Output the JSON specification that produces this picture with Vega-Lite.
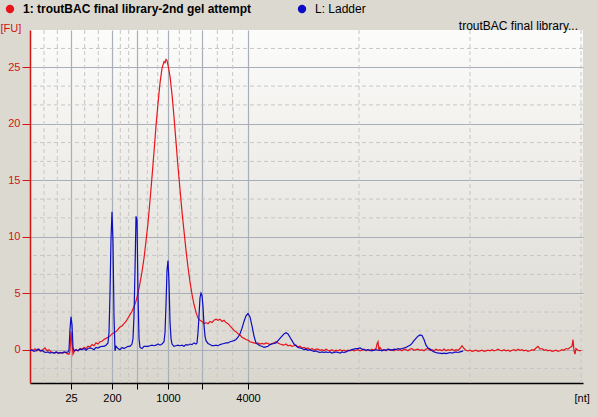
{
  "$schema": "https://vega.github.io/schema/vega-lite/v6.json",
  "width": 553,
  "height": 353,
  "autosize": {"type": "none"},
  "padding": {"left": 30, "top": 30, "right": 14, "bottom": 34},
  "background": "#dcd9d1",
  "config": {
    "font": "Liberation Sans",
    "view": {"stroke": null, "fill": {"gradient": "linear", "x1": 0, "y1": 0, "x2": 0, "y2": 1, "stops": [{"offset": 0, "color": "#fcfcfb"}, {"offset": 1, "color": "#d9d6ce"}]}}
  },
  "title": {"text": "troutBAC final library...", "anchor": "end", "frame": "group", "fontSize": 12, "fontWeight": "normal", "font": "Liberation Sans", "color": "#000000", "offset": -39, "baseline": "alphabetic", "dx": -5},
  "datasets": {
    "vgrid": [{"t":44},{"t":57.3},{"t":84.7},{"t":98.3},{"t":120.3},{"t":128.7},{"t":147.3},{"t":157.7},{"t":179.3},{"t":190.7},{"t":217.3},{"t":232.7},{"t":359},{"t":470},{"t":581}],
    "hgrid": [{"v":-1.667},{"v":1.667},{"v":3.333},{"v":6.667},{"v":8.333},{"v":11.667},{"v":13.333},{"v":16.667},{"v":18.333},{"v":21.667},{"v":23.333},{"v":26.667}],
    "curves": [
      {"s":"1","t":30,"v":0.0},{"s":"1","t":33,"v":-0.1},{"s":"1","t":35,"v":0.1},{"s":"1","t":37,"v":-0.1},{"s":"1","t":39,"v":0.05},{"s":"1","t":41,"v":-0.15},{"s":"1","t":43,"v":0.0},{"s":"1","t":45,"v":0.15},{"s":"1","t":47,"v":-0.1},{"s":"1","t":49,"v":0.0},{"s":"1","t":51,"v":-0.2},{"s":"1","t":53,"v":-0.25},{"s":"1","t":55,"v":-0.3},{"s":"1","t":57,"v":-0.2},{"s":"1","t":59,"v":-0.35},{"s":"1","t":61,"v":-0.25},{"s":"1","t":63,"v":-0.3},{"s":"1","t":65,"v":-0.2},{"s":"1","t":67,"v":-0.35},{"s":"1","t":69,"v":-0.4},{"s":"1","t":70,"v":-0.1},{"s":"1","t":71,"v":1.6},{"s":"1","t":72,"v":0.5},{"s":"1","t":73,"v":-0.4},{"s":"1","t":74,"v":-0.2},{"s":"1","t":76,"v":0.0},{"s":"1","t":78,"v":-0.1},{"s":"1","t":80,"v":0.1},{"s":"1","t":82,"v":0.05},{"s":"1","t":84,"v":0.2},{"s":"1","t":86,"v":0.1},{"s":"1","t":88,"v":0.3},{"s":"1","t":90,"v":0.25},{"s":"1","t":92,"v":0.45},{"s":"1","t":94,"v":0.35},{"s":"1","t":96,"v":0.6},{"s":"1","t":98,"v":0.5},{"s":"1","t":100,"v":0.7},{"s":"1","t":102,"v":0.75},{"s":"1","t":104,"v":0.9},{"s":"1","t":106,"v":1.0},{"s":"1","t":108,"v":1.1},{"s":"1","t":110,"v":1.2},{"s":"1","t":112,"v":1.4},{"s":"1","t":114,"v":1.5},{"s":"1","t":116,"v":1.6},{"s":"1","t":118,"v":1.8},{"s":"1","t":120,"v":2.0},{"s":"1","t":122,"v":2.1},{"s":"1","t":124,"v":2.3},{"s":"1","t":126,"v":2.5},{"s":"1","t":128,"v":2.8},{"s":"1","t":130,"v":3.1},{"s":"1","t":132,"v":3.4},{"s":"1","t":134,"v":3.8},{"s":"1","t":136,"v":4.3},{"s":"1","t":138,"v":5.0},{"s":"1","t":140,"v":5.9},{"s":"1","t":142,"v":6.9},{"s":"1","t":144,"v":8.1},{"s":"1","t":146,"v":9.6},{"s":"1","t":148,"v":11.2},{"s":"1","t":150,"v":13.2},{"s":"1","t":152,"v":15.3},{"s":"1","t":154,"v":17.5},{"s":"1","t":156,"v":19.8},{"s":"1","t":158,"v":21.8},{"s":"1","t":160,"v":23.6},{"s":"1","t":162,"v":24.9},{"s":"1","t":164,"v":25.5},{"s":"1","t":165,"v":25.4},{"s":"1","t":166,"v":25.7},{"s":"1","t":167,"v":25.6},{"s":"1","t":168,"v":25.2},{"s":"1","t":170,"v":24.2},{"s":"1","t":172,"v":22.6},{"s":"1","t":174,"v":20.6},{"s":"1","t":176,"v":18.4},{"s":"1","t":178,"v":16.2},{"s":"1","t":180,"v":14.2},{"s":"1","t":182,"v":12.2},{"s":"1","t":184,"v":10.5},{"s":"1","t":186,"v":8.8},{"s":"1","t":188,"v":7.3},{"s":"1","t":190,"v":6.0},{"s":"1","t":192,"v":4.9},{"s":"1","t":194,"v":4.0},{"s":"1","t":196,"v":3.3},{"s":"1","t":198,"v":2.8},{"s":"1","t":200,"v":2.6},{"s":"1","t":202,"v":2.5},{"s":"1","t":204,"v":2.3},{"s":"1","t":206,"v":2.4},{"s":"1","t":208,"v":2.3},{"s":"1","t":210,"v":2.5},{"s":"1","t":212,"v":2.4},{"s":"1","t":214,"v":2.6},{"s":"1","t":216,"v":2.7},{"s":"1","t":218,"v":2.6},{"s":"1","t":220,"v":2.7},{"s":"1","t":222,"v":2.5},{"s":"1","t":224,"v":2.6},{"s":"1","t":226,"v":2.4},{"s":"1","t":228,"v":2.3},{"s":"1","t":230,"v":2.1},{"s":"1","t":232,"v":1.9},{"s":"1","t":234,"v":1.7},{"s":"1","t":236,"v":1.6},{"s":"1","t":238,"v":1.4},{"s":"1","t":240,"v":1.3},{"s":"1","t":242,"v":1.1},{"s":"1","t":244,"v":1.0},{"s":"1","t":246,"v":0.9},{"s":"1","t":248,"v":0.85},{"s":"1","t":250,"v":0.7},{"s":"1","t":252,"v":0.65},{"s":"1","t":254,"v":0.6},{"s":"1","t":256,"v":0.55},{"s":"1","t":258,"v":0.6},{"s":"1","t":260,"v":0.5},{"s":"1","t":262,"v":0.55},{"s":"1","t":264,"v":0.5},{"s":"1","t":266,"v":0.6},{"s":"1","t":268,"v":0.55},{"s":"1","t":270,"v":0.45},{"s":"1","t":272,"v":0.55},{"s":"1","t":274,"v":0.6},{"s":"1","t":276,"v":0.7},{"s":"1","t":278,"v":0.6},{"s":"1","t":280,"v":0.5},{"s":"1","t":282,"v":0.45},{"s":"1","t":284,"v":0.4},{"s":"1","t":286,"v":0.5},{"s":"1","t":288,"v":0.35},{"s":"1","t":290,"v":0.4},{"s":"1","t":292,"v":0.3},{"s":"1","t":294,"v":0.35},{"s":"1","t":296,"v":0.4},{"s":"1","t":298,"v":0.25},{"s":"1","t":300,"v":0.3},{"s":"1","t":302,"v":0.15},{"s":"1","t":304,"v":0.2},{"s":"1","t":306,"v":0.1},{"s":"1","t":308,"v":0.15},{"s":"1","t":310,"v":0.0},{"s":"1","t":312,"v":0.1},{"s":"1","t":314,"v":-0.05},{"s":"1","t":316,"v":0.05},{"s":"1","t":318,"v":0.05},{"s":"1","t":320,"v":-0.05},{"s":"1","t":322,"v":0.0},{"s":"1","t":324,"v":-0.1},{"s":"1","t":326,"v":0.05},{"s":"1","t":328,"v":-0.05},{"s":"1","t":330,"v":-0.1},{"s":"1","t":332,"v":0.0},{"s":"1","t":334,"v":-0.15},{"s":"1","t":336,"v":-0.05},{"s":"1","t":338,"v":-0.1},{"s":"1","t":340,"v":0.0},{"s":"1","t":342,"v":-0.1},{"s":"1","t":344,"v":-0.05},{"s":"1","t":346,"v":-0.15},{"s":"1","t":348,"v":-0.05},{"s":"1","t":350,"v":-0.1},{"s":"1","t":352,"v":0.0},{"s":"1","t":354,"v":-0.1},{"s":"1","t":356,"v":-0.05},{"s":"1","t":358,"v":0.0},{"s":"1","t":360,"v":-0.1},{"s":"1","t":362,"v":-0.05},{"s":"1","t":364,"v":0.05},{"s":"1","t":366,"v":-0.1},{"s":"1","t":368,"v":0.0},{"s":"1","t":370,"v":-0.1},{"s":"1","t":372,"v":0.05},{"s":"1","t":374,"v":-0.05},{"s":"1","t":376,"v":0.1},{"s":"1","t":377,"v":0.5},{"s":"1","t":378,"v":0.7},{"s":"1","t":379,"v":-0.1},{"s":"1","t":380,"v":0.2},{"s":"1","t":382,"v":-0.05},{"s":"1","t":384,"v":0.0},{"s":"1","t":386,"v":-0.1},{"s":"1","t":388,"v":0.05},{"s":"1","t":390,"v":-0.05},{"s":"1","t":392,"v":0.0},{"s":"1","t":394,"v":-0.1},{"s":"1","t":396,"v":0.05},{"s":"1","t":398,"v":-0.05},{"s":"1","t":400,"v":0.0},{"s":"1","t":402,"v":-0.1},{"s":"1","t":404,"v":0.05},{"s":"1","t":406,"v":0.0},{"s":"1","t":408,"v":-0.1},{"s":"1","t":410,"v":0.05},{"s":"1","t":412,"v":0.1},{"s":"1","t":414,"v":-0.05},{"s":"1","t":416,"v":0.0},{"s":"1","t":418,"v":0.05},{"s":"1","t":420,"v":-0.05},{"s":"1","t":422,"v":0.0},{"s":"1","t":424,"v":-0.1},{"s":"1","t":426,"v":0.05},{"s":"1","t":428,"v":0.1},{"s":"1","t":430,"v":-0.05},{"s":"1","t":432,"v":0.0},{"s":"1","t":434,"v":-0.1},{"s":"1","t":436,"v":0.05},{"s":"1","t":438,"v":-0.05},{"s":"1","t":440,"v":0.0},{"s":"1","t":442,"v":-0.1},{"s":"1","t":444,"v":0.05},{"s":"1","t":446,"v":-0.1},{"s":"1","t":448,"v":0.0},{"s":"1","t":450,"v":-0.05},{"s":"1","t":452,"v":0.05},{"s":"1","t":454,"v":-0.1},{"s":"1","t":456,"v":0.0},{"s":"1","t":458,"v":-0.05},{"s":"1","t":460,"v":0.1},{"s":"1","t":462,"v":0.35},{"s":"1","t":464,"v":0.1},{"s":"1","t":466,"v":-0.05},{"s":"1","t":468,"v":-0.1},{"s":"1","t":470,"v":-0.05},{"s":"1","t":472,"v":-0.15},{"s":"1","t":474,"v":-0.1},{"s":"1","t":476,"v":-0.05},{"s":"1","t":478,"v":-0.15},{"s":"1","t":480,"v":-0.1},{"s":"1","t":482,"v":-0.05},{"s":"1","t":484,"v":-0.15},{"s":"1","t":486,"v":-0.1},{"s":"1","t":488,"v":-0.05},{"s":"1","t":490,"v":-0.1},{"s":"1","t":492,"v":0.0},{"s":"1","t":494,"v":-0.1},{"s":"1","t":496,"v":-0.05},{"s":"1","t":498,"v":0.05},{"s":"1","t":500,"v":-0.05},{"s":"1","t":502,"v":-0.1},{"s":"1","t":504,"v":0.0},{"s":"1","t":506,"v":-0.1},{"s":"1","t":508,"v":-0.05},{"s":"1","t":510,"v":-0.15},{"s":"1","t":512,"v":-0.05},{"s":"1","t":514,"v":0.0},{"s":"1","t":516,"v":-0.1},{"s":"1","t":518,"v":0.05},{"s":"1","t":520,"v":-0.05},{"s":"1","t":522,"v":0.0},{"s":"1","t":524,"v":-0.1},{"s":"1","t":526,"v":-0.05},{"s":"1","t":528,"v":-0.15},{"s":"1","t":530,"v":-0.1},{"s":"1","t":532,"v":0.0},{"s":"1","t":534,"v":-0.05},{"s":"1","t":536,"v":0.15},{"s":"1","t":538,"v":0.3},{"s":"1","t":540,"v":0.05},{"s":"1","t":542,"v":0.1},{"s":"1","t":544,"v":-0.05},{"s":"1","t":546,"v":0.0},{"s":"1","t":548,"v":-0.1},{"s":"1","t":550,"v":-0.05},{"s":"1","t":552,"v":-0.15},{"s":"1","t":554,"v":-0.1},{"s":"1","t":556,"v":-0.05},{"s":"1","t":558,"v":-0.15},{"s":"1","t":560,"v":-0.1},{"s":"1","t":562,"v":0.0},{"s":"1","t":564,"v":-0.05},{"s":"1","t":566,"v":0.1},{"s":"1","t":568,"v":0.05},{"s":"1","t":570,"v":0.2},{"s":"1","t":572,"v":0.3},{"s":"1","t":573,"v":0.9},{"s":"1","t":574,"v":-0.1},{"s":"1","t":575,"v":-0.4},{"s":"1","t":576,"v":0.1},{"s":"1","t":578,"v":-0.05},{"s":"1","t":580,"v":-0.1},{"s":"1","t":581,"v":-0.05},
      {"s":"L","t":30,"v":-0.1},{"s":"L","t":32,"v":0.0},{"s":"L","t":34,"v":-0.15},{"s":"L","t":36,"v":-0.1},{"s":"L","t":38,"v":0.05},{"s":"L","t":40,"v":-0.1},{"s":"L","t":42,"v":-0.05},{"s":"L","t":44,"v":-0.2},{"s":"L","t":46,"v":-0.25},{"s":"L","t":48,"v":-0.2},{"s":"L","t":50,"v":-0.3},{"s":"L","t":52,"v":-0.25},{"s":"L","t":54,"v":-0.3},{"s":"L","t":56,"v":-0.2},{"s":"L","t":58,"v":-0.3},{"s":"L","t":60,"v":-0.25},{"s":"L","t":62,"v":-0.3},{"s":"L","t":64,"v":-0.2},{"s":"L","t":66,"v":-0.25},{"s":"L","t":68,"v":-0.2},{"s":"L","t":69,"v":0.0},{"s":"L","t":70,"v":1.8},{"s":"L","t":71,"v":2.9},{"s":"L","t":72,"v":2.2},{"s":"L","t":73,"v":0.2},{"s":"L","t":74,"v":-0.1},{"s":"L","t":76,"v":0.0},{"s":"L","t":78,"v":-0.1},{"s":"L","t":80,"v":0.05},{"s":"L","t":82,"v":0.0},{"s":"L","t":84,"v":0.1},{"s":"L","t":86,"v":-0.05},{"s":"L","t":88,"v":0.1},{"s":"L","t":90,"v":0.15},{"s":"L","t":92,"v":0.1},{"s":"L","t":94,"v":0.0},{"s":"L","t":96,"v":0.2},{"s":"L","t":98,"v":0.15},{"s":"L","t":100,"v":0.25},{"s":"L","t":102,"v":0.3},{"s":"L","t":104,"v":0.3},{"s":"L","t":106,"v":0.4},{"s":"L","t":108,"v":0.6},{"s":"L","t":109,"v":1.5},{"s":"L","t":110,"v":5.0},{"s":"L","t":111,"v":9.8},{"s":"L","t":112,"v":12.2},{"s":"L","t":113,"v":9.5},{"s":"L","t":114,"v":3.0},{"s":"L","t":115,"v":-0.1},{"s":"L","t":116,"v":0.3},{"s":"L","t":118,"v":0.1},{"s":"L","t":120,"v":0.0},{"s":"L","t":122,"v":0.2},{"s":"L","t":124,"v":0.1},{"s":"L","t":126,"v":0.2},{"s":"L","t":128,"v":0.3},{"s":"L","t":130,"v":0.3},{"s":"L","t":132,"v":0.5},{"s":"L","t":133,"v":1.0},{"s":"L","t":134,"v":3.0},{"s":"L","t":135,"v":7.0},{"s":"L","t":136,"v":11.8},{"s":"L","t":137,"v":11.5},{"s":"L","t":138,"v":5.0},{"s":"L","t":139,"v":1.0},{"s":"L","t":140,"v":0.2},{"s":"L","t":142,"v":0.1},{"s":"L","t":144,"v":0.3},{"s":"L","t":146,"v":0.3},{"s":"L","t":148,"v":0.3},{"s":"L","t":150,"v":0.35},{"s":"L","t":152,"v":0.4},{"s":"L","t":154,"v":0.35},{"s":"L","t":156,"v":0.4},{"s":"L","t":158,"v":0.5},{"s":"L","t":160,"v":0.4},{"s":"L","t":162,"v":0.5},{"s":"L","t":164,"v":0.7},{"s":"L","t":165,"v":1.5},{"s":"L","t":166,"v":4.0},{"s":"L","t":167,"v":7.0},{"s":"L","t":168,"v":7.9},{"s":"L","t":169,"v":6.0},{"s":"L","t":170,"v":2.5},{"s":"L","t":171,"v":1.0},{"s":"L","t":172,"v":0.5},{"s":"L","t":174,"v":0.3},{"s":"L","t":176,"v":0.35},{"s":"L","t":178,"v":0.4},{"s":"L","t":180,"v":0.35},{"s":"L","t":182,"v":0.4},{"s":"L","t":184,"v":0.3},{"s":"L","t":186,"v":0.45},{"s":"L","t":188,"v":0.4},{"s":"L","t":190,"v":0.5},{"s":"L","t":192,"v":0.45},{"s":"L","t":194,"v":0.6},{"s":"L","t":196,"v":0.5},{"s":"L","t":197,"v":0.6},{"s":"L","t":198,"v":1.5},{"s":"L","t":199,"v":3.0},{"s":"L","t":200,"v":4.6},{"s":"L","t":201,"v":5.0},{"s":"L","t":202,"v":4.8},{"s":"L","t":203,"v":3.8},{"s":"L","t":204,"v":2.2},{"s":"L","t":205,"v":1.2},{"s":"L","t":206,"v":0.8},{"s":"L","t":208,"v":0.55},{"s":"L","t":210,"v":0.45},{"s":"L","t":212,"v":0.35},{"s":"L","t":214,"v":0.35},{"s":"L","t":216,"v":0.4},{"s":"L","t":218,"v":0.35},{"s":"L","t":220,"v":0.45},{"s":"L","t":222,"v":0.5},{"s":"L","t":224,"v":0.55},{"s":"L","t":226,"v":0.6},{"s":"L","t":228,"v":0.6},{"s":"L","t":230,"v":0.7},{"s":"L","t":232,"v":0.75},{"s":"L","t":234,"v":0.8},{"s":"L","t":236,"v":0.9},{"s":"L","t":238,"v":1.1},{"s":"L","t":240,"v":1.4},{"s":"L","t":242,"v":1.9},{"s":"L","t":244,"v":2.5},{"s":"L","t":246,"v":3.0},{"s":"L","t":248,"v":3.2},{"s":"L","t":250,"v":2.9},{"s":"L","t":252,"v":2.1},{"s":"L","t":254,"v":1.2},{"s":"L","t":256,"v":0.6},{"s":"L","t":258,"v":0.45},{"s":"L","t":260,"v":0.35},{"s":"L","t":262,"v":0.3},{"s":"L","t":264,"v":0.2},{"s":"L","t":266,"v":0.25},{"s":"L","t":268,"v":0.3},{"s":"L","t":270,"v":0.45},{"s":"L","t":272,"v":0.5},{"s":"L","t":274,"v":0.55},{"s":"L","t":276,"v":0.6},{"s":"L","t":278,"v":0.8},{"s":"L","t":280,"v":1.0},{"s":"L","t":282,"v":1.2},{"s":"L","t":284,"v":1.4},{"s":"L","t":286,"v":1.5},{"s":"L","t":288,"v":1.4},{"s":"L","t":290,"v":1.1},{"s":"L","t":292,"v":0.8},{"s":"L","t":294,"v":0.5},{"s":"L","t":296,"v":0.35},{"s":"L","t":298,"v":0.2},{"s":"L","t":300,"v":0.15},{"s":"L","t":302,"v":0.1},{"s":"L","t":304,"v":0.0},{"s":"L","t":306,"v":0.05},{"s":"L","t":308,"v":-0.05},{"s":"L","t":310,"v":0.0},{"s":"L","t":312,"v":-0.1},{"s":"L","t":314,"v":-0.15},{"s":"L","t":316,"v":-0.1},{"s":"L","t":318,"v":-0.2},{"s":"L","t":320,"v":-0.25},{"s":"L","t":322,"v":-0.2},{"s":"L","t":324,"v":-0.25},{"s":"L","t":326,"v":-0.2},{"s":"L","t":328,"v":-0.25},{"s":"L","t":330,"v":-0.2},{"s":"L","t":332,"v":-0.3},{"s":"L","t":334,"v":-0.25},{"s":"L","t":336,"v":-0.2},{"s":"L","t":338,"v":-0.25},{"s":"L","t":340,"v":-0.3},{"s":"L","t":342,"v":-0.2},{"s":"L","t":344,"v":-0.25},{"s":"L","t":346,"v":-0.2},{"s":"L","t":348,"v":-0.1},{"s":"L","t":350,"v":-0.05},{"s":"L","t":352,"v":0.0},{"s":"L","t":354,"v":0.05},{"s":"L","t":356,"v":0.1},{"s":"L","t":358,"v":0.1},{"s":"L","t":360,"v":0.15},{"s":"L","t":362,"v":0.05},{"s":"L","t":364,"v":0.0},{"s":"L","t":366,"v":-0.05},{"s":"L","t":368,"v":0.0},{"s":"L","t":370,"v":-0.05},{"s":"L","t":372,"v":-0.1},{"s":"L","t":374,"v":-0.05},{"s":"L","t":376,"v":0.0},{"s":"L","t":378,"v":-0.05},{"s":"L","t":380,"v":-0.05},{"s":"L","t":382,"v":-0.1},{"s":"L","t":384,"v":0.0},{"s":"L","t":386,"v":-0.05},{"s":"L","t":388,"v":0.05},{"s":"L","t":390,"v":0.0},{"s":"L","t":392,"v":-0.05},{"s":"L","t":394,"v":0.05},{"s":"L","t":396,"v":0.0},{"s":"L","t":398,"v":0.1},{"s":"L","t":400,"v":0.05},{"s":"L","t":402,"v":0.1},{"s":"L","t":404,"v":0.15},{"s":"L","t":406,"v":0.2},{"s":"L","t":408,"v":0.3},{"s":"L","t":410,"v":0.4},{"s":"L","t":412,"v":0.55},{"s":"L","t":414,"v":0.8},{"s":"L","t":416,"v":1.0},{"s":"L","t":418,"v":1.2},{"s":"L","t":420,"v":1.3},{"s":"L","t":422,"v":1.25},{"s":"L","t":424,"v":0.9},{"s":"L","t":426,"v":0.4},{"s":"L","t":428,"v":0.15},{"s":"L","t":430,"v":0.05},{"s":"L","t":432,"v":-0.1},{"s":"L","t":434,"v":-0.2},{"s":"L","t":436,"v":-0.25},{"s":"L","t":438,"v":-0.3},{"s":"L","t":440,"v":-0.3},{"s":"L","t":442,"v":-0.35},{"s":"L","t":444,"v":-0.3},{"s":"L","t":446,"v":-0.35},{"s":"L","t":448,"v":-0.3},{"s":"L","t":450,"v":-0.25},{"s":"L","t":452,"v":-0.3},{"s":"L","t":454,"v":-0.25},{"s":"L","t":456,"v":-0.2},{"s":"L","t":458,"v":-0.25},{"s":"L","t":460,"v":-0.2},{"s":"L","t":462,"v":-0.15},{"s":"L","t":463,"v":-0.1}
    ]
  },
  "layer": [
    {
      "data": {"name": "vgrid"},
      "mark": {"type": "rule", "color": "#c6c6c6", "strokeWidth": 1, "strokeDash": [4, 3]},
      "encoding": {"x": {"field": "t", "type": "quantitative", "scale": {"domain": [30, 583], "nice": false, "zero": false}}}
    },
    {
      "data": {"name": "hgrid"},
      "mark": {"type": "rule", "color": "#c6c6c6", "strokeWidth": 1, "strokeDash": [4, 3]},
      "encoding": {"y": {"field": "v", "type": "quantitative", "scale": {"domain": [-2.95, 28.3], "nice": false, "zero": false}}}
    },
    {
      "data": {"name": "curves"},
      "mark": {"type": "line", "strokeWidth": 1.2, "interpolate": "linear"},
      "encoding": {
        "x": {
          "field": "t", "type": "quantitative",
          "scale": {"domain": [30, 583], "nice": false, "zero": false},
          "axis": {
            "values": [71, 112, 137, 168, 202, 248],
            "labelExpr": "datum.value == 71 ? '25' : datum.value == 112 ? '200' : datum.value == 168 ? '1000' : datum.value == 248 ? '4000' : ''",
            "labelOverlap": false, "labelFlush": false,
            "grid": true, "gridColor": "#a9afb9", "gridWidth": 1.2,
            "domainColor": "#000000", "domainWidth": 1.5, "tickColor": "#000000", "tickSize": 6,
            "labelColor": "#000000", "labelFontSize": 11, "labelPadding": 3,
            "title": "[nt]", "titleX": 544, "titleY": 9, "titleAlign": "left", "titleBaseline": "top",
            "titleFontWeight": "normal", "titleFontSize": 11, "titleColor": "#000000"
          }
        },
        "y": {
          "field": "v", "type": "quantitative",
          "scale": {"domain": [-2.95, 28.3], "nice": false, "zero": false},
          "axis": {
            "values": [0, 5, 10, 15, 20, 25],
            "grid": true, "gridColor": "#a9afb9", "gridWidth": 1.2,
            "domainColor": "#d01414", "domainWidth": 1.5, "tickColor": "#d01414", "tickSize": 8,
            "labelColor": "#d01414", "labelFontSize": 11, "labelPadding": 2,
            "title": "[FU]", "titleAngle": 0, "titleX": -30, "titleY": 1, "titleAlign": "left", "titleBaseline": "alphabetic",
            "titleColor": "#d01414", "titleFontWeight": "normal", "titleFontSize": 11
          }
        },
        "color": {
          "field": "s", "type": "nominal",
          "scale": {"domain": ["1", "L"], "range": ["#e8141c", "#0c0cc4"]},
          "legend": {
            "orient": "none", "legendX": -26, "legendY": -27, "direction": "horizontal", "title": null,
            "symbolType": "circle", "symbolSize": 70, "symbolStrokeWidth": 0,
            "labelExpr": "datum.label == '1' ? '1: troutBAC final library-2nd gel attempt' : 'L: Ladder'",
            "labelFont": "Liberation Sans", "labelFontSize": 12, "labelColor": "#000000", "labelLimit": 400,
            "columnPadding": 44, "padding": 0, "labelOffset": 7,
            "encode": {
              "symbols": {"update": {"fill": {"scale": "color", "field": "value"}, "opacity": {"value": 1}}},
              "labels": {"update": {"fontWeight": {"signal": "datum.index === 0 ? 'bold' : 'normal'"}}}
            }
          }
        }
      }
    }
  ]
}
